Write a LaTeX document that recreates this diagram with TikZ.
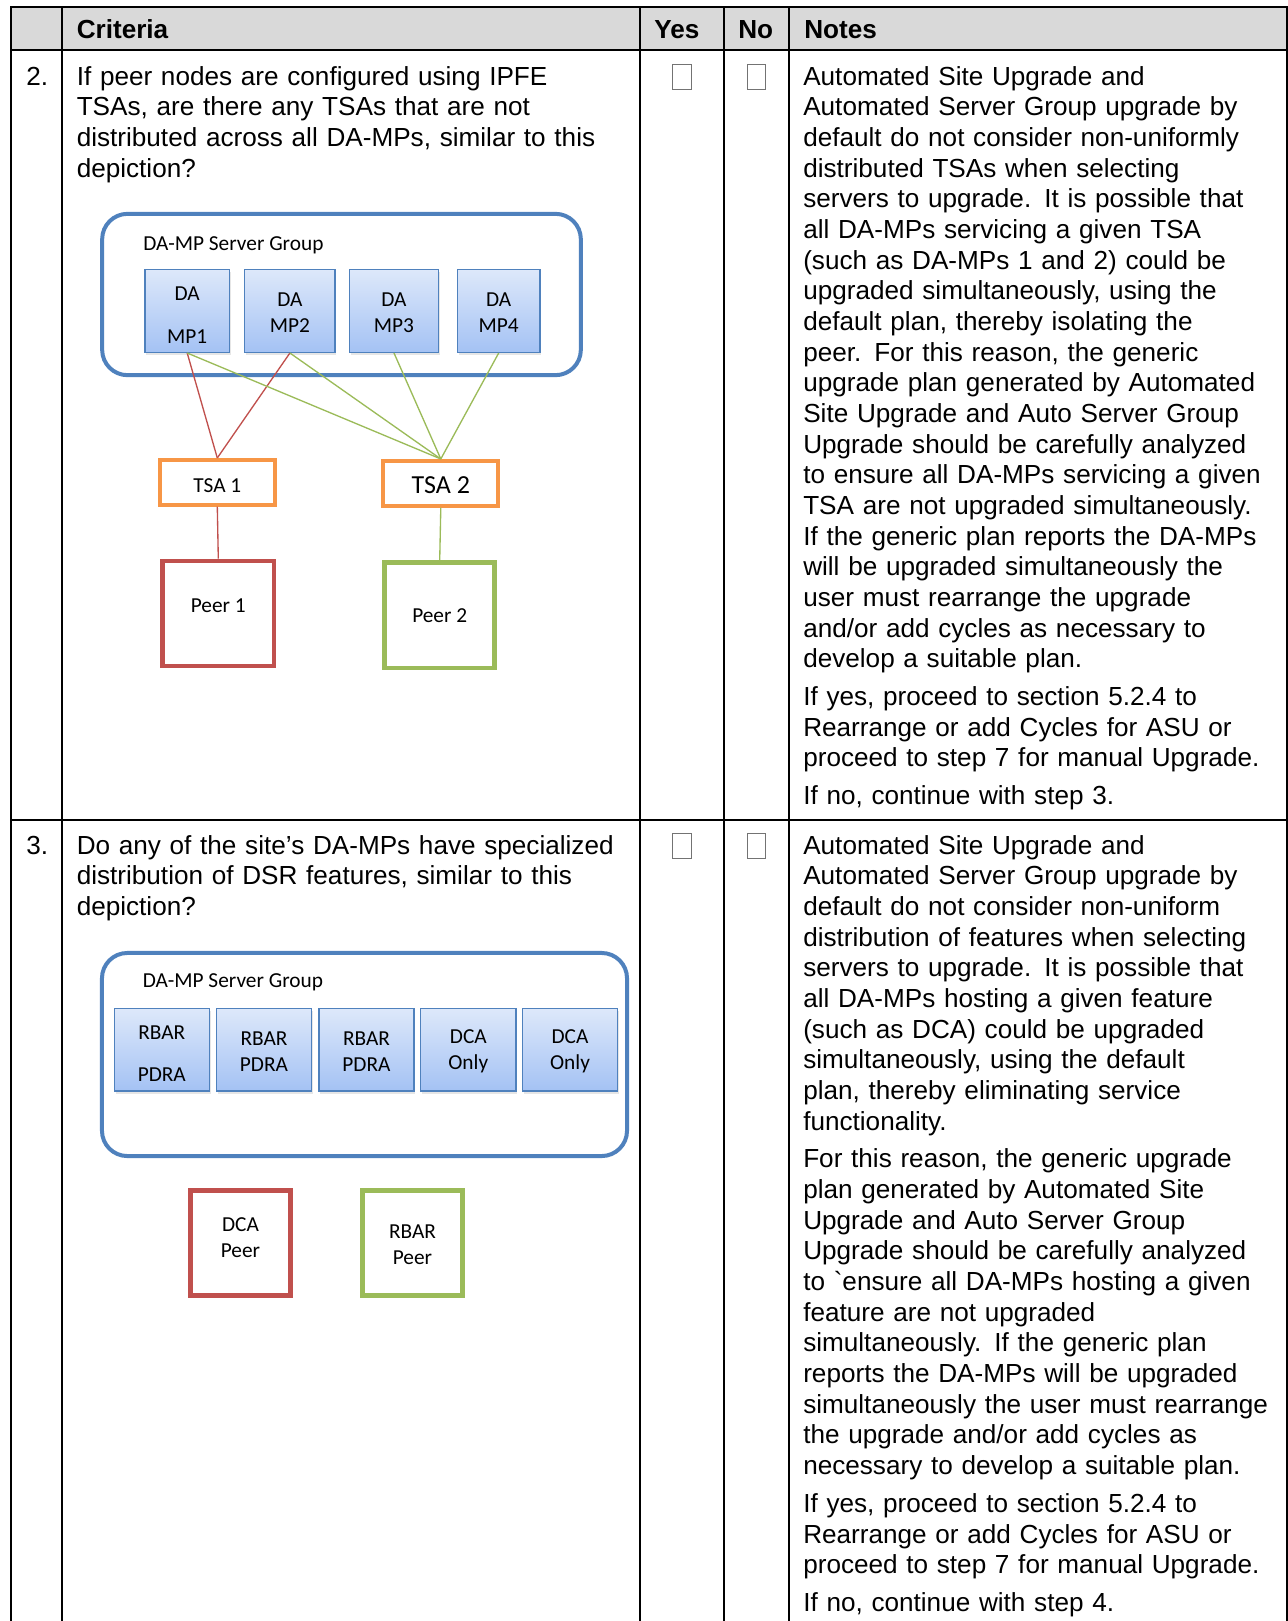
\documentclass[tikz,border=0pt]{standalone}
\usepackage{fontspec}
\setmainfont{Liberation Sans}
\newfontfamily\calibfont{Carlito}
\usetikzlibrary{shadows}
\definecolor{tblgray}{HTML}{D9D9D9}
\definecolor{grpblue}{HTML}{4F81BD}
\definecolor{boxtop}{HTML}{DDE8FA}
\definecolor{boxbot}{HTML}{A4C2F4}
\definecolor{tsaorange}{HTML}{F79646}
\definecolor{peerred}{HTML}{C0504D}
\definecolor{peergreen}{HTML}{9BBB59}
\setlength{\parindent}{0pt}
\tikzset{
  body/.style={anchor=base west,inner sep=0,align=left,font=\fontsize{19.6}{23}\selectfont},
  notes/.style={body,text width=362pt,font=\fontsize{19.6}{23}\selectfont\setlength{\parskip}{5.4pt}},
  head/.style={anchor=base west,inner sep=0,font=\fontsize{19.6}{23}\selectfont\bfseries},
  tick/.style={draw=black!55,line width=0.8pt,minimum width=13.9pt,minimum height=18.4pt,inner sep=0,anchor=north west},
  group/.style={draw=grpblue,line width=3pt,rounded corners=19pt,inner sep=0},
  boxtext/.style={inner sep=0,align=center,font=\calibfont\fontsize{16}{19.4}\selectfont},
  grouplabel/.style={boxtext,anchor=base west},
  dabox/.style={draw=grpblue,line width=1pt,inner sep=0,top color=boxtop,bottom color=boxbot,
    drop shadow={shadow xshift=1pt,shadow yshift=-2pt,opacity=0.2}},
  tsabox/.style={boxtext,draw=tsaorange,line width=3pt,fill=white,minimum width=86pt,minimum height=33.5pt},
  peerbox/.style={line width=3.5pt,inner sep=0,fill=white},
  link/.style={line width=1pt}
}

\begin{document}
\begin{tikzpicture}[x=0.75pt,y=-0.75pt]
\useasboundingbox (0,0) rectangle (1288,1621);

	\fill[tblgray] (11,7.3) rectangle (1286.5,50);
	\draw[line width=1.5pt] (11,1621) -- (11,7.3) -- (1286.5,7.3) -- (1286.5,1621);
	\draw[line width=1.5pt] (11,50) -- (1286.5,50);
	\draw[line width=1.5pt] (11,819.5) -- (1286.5,819.5);
	\foreach \x in {61.7,640,724,788.5}
		\draw[line width=1.5pt] (\x,7.3) -- (\x,1621);

	\node[head] (hcrit) at (76.5,38.5) {Criteria};
	\node[head] (hyes) at (654,38.5) {Yes};
	\node[head] (hno) at (738,38.5) {No};
	\node[head] (hnotes) at (804,38.5) {Notes};

	\node[body] (num2) at (26,85) {2.};
	\node[body] (num3) at (26,854) {3.};

	\node[tick] (yes2) at (672,64) {};
	\node[tick] (no2) at (746.7,64) {};
	\node[tick] (yes3) at (672,833) {};
	\node[tick] (no3) at (746.7,833) {};

	\node[body,text width=415pt] (crit2) at (76.5,85) {If peer nodes are configured using IPFE\\
TSAs, are there any TSAs that are not\\
distributed across all DA-MPs, similar to this\\
depiction?};

	\node[body,text width=415pt] (crit3) at (76.5,854) {Do any of the site’s DA-MPs have specialized\\
distribution of DSR features, similar to this\\
depiction?};

	\node[notes] (notes2) at (803,85) {Automated Site Upgrade and\\
Automated Server Group upgrade by\\
default do not consider non-uniformly\\
distributed TSAs when selecting\\
servers to upgrade. It is possible that\\
all DA-MPs servicing a given TSA\\
(such as DA-MPs 1 and 2) could be\\
upgraded simultaneously, using the\\
default plan, thereby isolating the\\
peer. For this reason, the generic\\
upgrade plan generated by Automated\\
Site Upgrade and Auto Server Group\\
Upgrade should be carefully analyzed\\
to ensure all DA-MPs servicing a given\\
TSA are not upgraded simultaneously.\\
If the generic plan reports the DA-MPs\\
will be upgraded simultaneously the\\
user must rearrange the upgrade\\
and/or add cycles as necessary to\\
develop a suitable plan.\par
If yes, proceed to section 5.2.4 to\\
Rearrange or add Cycles for ASU or\\
proceed to step 7 for manual Upgrade.\par
If no, continue with step 3.};

	\node[notes] (notes3) at (803,854) {Automated Site Upgrade and\\
Automated Server Group upgrade by\\
default do not consider non-uniform\\
distribution of features when selecting\\
servers to upgrade. It is possible that\\
all DA-MPs hosting a given feature\\
(such as DCA) could be upgraded\\
simultaneously, using the default\\
plan, thereby eliminating service\\
functionality.\par
For this reason, the generic upgrade\\
plan generated by Automated Site\\
Upgrade and Auto Server Group\\
Upgrade should be carefully analyzed\\
to \textasciigrave ensure all DA-MPs hosting a given\\
feature are not upgraded\\
simultaneously. If the generic plan\\
reports the DA-MPs will be upgraded\\
simultaneously the user must rearrange\\
the upgrade and/or add cycles as\\
necessary to develop a suitable plan.\par
If yes, proceed to section 5.2.4 to\\
Rearrange or add Cycles for ASU or\\
proceed to step 7 for manual Upgrade.\par
If no, continue with step 4.};

	\node[group,minimum width=359pt,minimum height=121pt] (grp1) at (341.5,294.5) {};
	\node[grouplabel] (grp1label) at (143,250) {DA-MP Server Group};
	\node[dabox,minimum width=63.3pt,minimum height=62pt,
		label={[boxtext,yshift=-3pt]center:DA\\[13pt]MP1}] (mp1) at (187.2,311) {};
	\node[dabox,minimum width=67.8pt,minimum height=62pt,
		label={[boxtext,yshift=-1.5pt]center:DA\\MP2}] (mp2) at (289.9,311) {};
	\node[dabox,minimum width=66.5pt,minimum height=62pt,
		label={[boxtext,yshift=-1.5pt]center:DA\\MP3}] (mp3) at (394,311) {};
	\node[dabox,minimum width=62pt,minimum height=62pt,
		label={[boxtext,yshift=-1.5pt]center:DA\\MP4}] (mp4) at (498.7,311) {};

	\node[tsabox,label={[boxtext,yshift=-2.3pt]center:TSA 1}] (tsa1) at (217.3,482.3) {};
	\node[tsabox,label={[boxtext,font=\calibfont\fontsize{19.5}{22}\selectfont,yshift=-1.5pt]center:TSA 2}] (tsa2) at (440.8,483.3) {};
	\node[peerbox,draw=peerred,minimum width=83.3pt,minimum height=78.8pt,
		label={[boxtext,yshift=6pt]center:Peer 1}] (peer1) at (218.3,613.5) {};
	\node[peerbox,draw=peergreen,minimum width=82.5pt,minimum height=78.8pt,
		label={[boxtext]center:Peer 2}] (peer2) at (439.7,615.3) {};

	\draw[link,peerred] (mp1.south) -- (tsa1.north);
	\draw[link,peerred] (mp2.south) -- (tsa1.north);
	\foreach \m in {mp1,mp2,mp3,mp4}
		\draw[link,peergreen] (\m.south) -- (tsa2.north);
	\draw[link,peerred] (tsa1.south) -- (peer1.north);
	\draw[link,peergreen] (tsa2.south) -- (peer2.north);

	\node[group,minimum width=393.8pt,minimum height=152.3pt] (grp2) at (364.5,1054.5) {};
	\node[grouplabel] (grp2label) at (142.6,987) {DA-MP Server Group};
	\node[dabox,minimum width=71.3pt,minimum height=61.7pt,
		label={[boxtext,yshift=-3pt]center:RBAR\\[11.6pt]PDRA}] (feat1) at (161.8,1049.8) {};
	\node[dabox,minimum width=71.3pt,minimum height=61.7pt,
		label={[boxtext,yshift=-1.2pt]center:RBAR\\PDRA}] (feat2) at (264,1049.8) {};
	\node[dabox,minimum width=71.3pt,minimum height=61.7pt,
		label={[boxtext,yshift=-1.2pt]center:RBAR\\PDRA}] (feat3) at (366.5,1049.8) {};
	\node[dabox,minimum width=71.3pt,minimum height=61.7pt,
		label={[boxtext,yshift=-1.2pt]center:DCA\\Only}] (feat4) at (468.3,1049.8) {};
	\node[dabox,minimum width=71.3pt,minimum height=61.7pt,
		label={[boxtext,yshift=-1.2pt]center:DCA\\Only}] (feat5) at (570,1049.8) {};

	\node[peerbox,draw=peerred,minimum width=75.2pt,minimum height=79pt,
		label={[boxtext,yshift=4.3pt]center:DCA\\Peer}] (dcapeer) at (240.5,1243) {};
	\node[peerbox,draw=peergreen,minimum width=75.2pt,minimum height=79pt,
		label={[boxtext,yshift=-1.5pt]center:RBAR\\Peer}] (rbarpeer) at (412.5,1243) {};

\end{tikzpicture}
\end{document}
